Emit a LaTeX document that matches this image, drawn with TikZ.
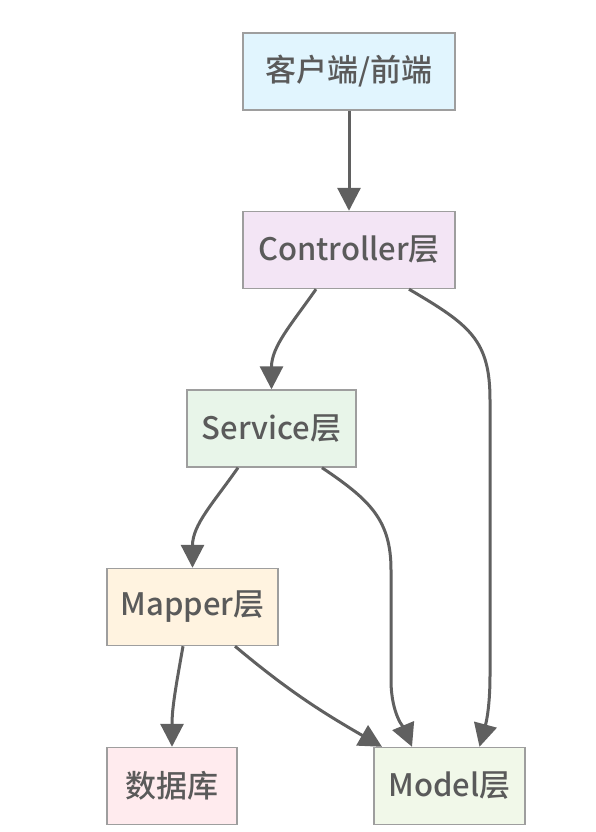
\documentclass[tikz,border=0pt]{standalone}
\usepackage{fontspec}
\setmainfont{Noto Sans CJK SC}[UprightFont=* Medium]
\usetikzlibrary{arrows.meta, positioning}
\definecolor{edgegray}{HTML}{606060}
\definecolor{boxline}{HTML}{9E9E9E}
\definecolor{textgray}{HTML}{5A5A5A}
\tikzset{
x=1pt, y=-1pt, % pixel-like units, y grows downwards
layer/.style={draw=boxline, line width=1.4pt, minimum height=77pt, text=textgray, font=\fontsize{31}{36}\selectfont}, % every box
flow/.style={draw=edgegray, line width=3pt, -{Triangle[length=23pt, width=23pt]}}, % every connector
}
\begin{document}
\begin{tikzpicture}
    \useasboundingbox (0,0) rectangle (596,832);
    \node[layer, fill={rgb,255:red,225;green,245;blue,254}, minimum width=212pt] (client) at (349,71.5) {客户端/前端};
    \node[layer, fill={rgb,255:red,243;green,229;blue,245}, minimum width=212pt] (ctrl) at (349,250) {Controller层};
    \node[layer, fill={rgb,255:red,232;green,245;blue,233}, minimum width=169pt] (service) at (271.5,428.5) {Service层};
    \node[layer, fill={rgb,255:red,255;green,243;blue,224}, minimum width=171pt] (mapper) at (192.5,607) {Mapper层};
    \node[layer, fill={rgb,255:red,255;green,235;blue,238}, minimum width=130pt] (db) at (172,786) {数据库};
    \node[layer, fill={rgb,255:red,241;green,248;blue,233}, minimum width=151pt] (model) at (449.5,786) {Model层};
    \draw[flow] (client) -- (ctrl);
    \draw[flow] ([xshift=-33pt]ctrl.south) to[out=-125, in=90] (service.north);
    \draw[flow] ([xshift=60pt]ctrl.south) .. controls (470,325) and (490,340) .. (490,400)
        -- (490,675) .. controls (490,715) and (484,730) .. ([xshift=30pt]model.north);
    \draw[flow] ([xshift=-33.5pt]service.south) to[out=-125, in=90] (mapper.north);
    \draw[flow] ([xshift=50.5pt]service.south) .. controls (370,500) and (391,520) .. (391,570)
        -- (391,680) .. controls (391,715) and (405,730) .. ([xshift=-37.5pt]model.north);
    \draw[flow] ([xshift=-9.5pt]mapper.south) to[out=-100, in=90] (db.north);
    \draw[flow] ([xshift=42.5pt]mapper.south) to[out=-40, in=150] ([xshift=-67.5pt]model.north);
  \end{tikzpicture}
\end{document}
